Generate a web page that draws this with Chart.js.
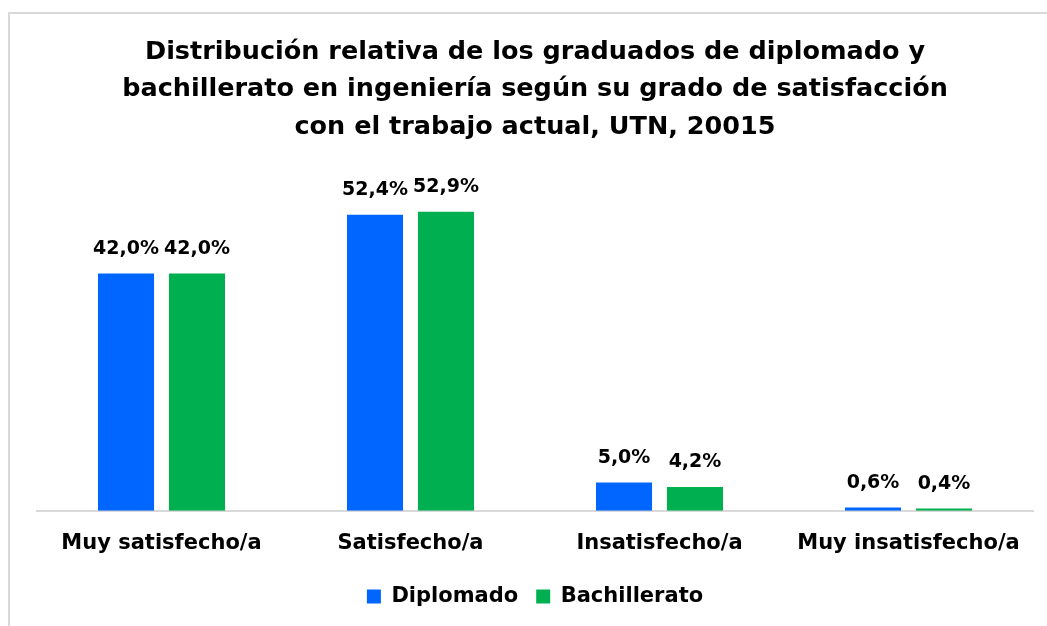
<!DOCTYPE html>
<html>
<head>
<meta charset="utf-8">
<script src="https://cdn.jsdelivr.net/npm/chart.js@4"></script>
<style>
  html, body { margin: 0; padding: 0; background: #fff; overflow: hidden; }
  canvas { display: block; }
</style>
</head>
<body>
<canvas id="c" width="1047" height="626"></canvas>
<script>
const titleLines = [
  "Distribución relativa de los graduados de diplomado y",
  "bachillerato en ingeniería según su grado de satisfacción",
  "con el trabajo actual, UTN, 20015"
];
const categories = ["Muy satisfecho/a", "Satisfecho/a", "Insatisfecho/a", "Muy insatisfecho/a"];
const diplomado = [42.0, 52.4, 5.0, 0.6];
const bachillerato = [42.0, 52.9, 4.2, 0.4];
const seriesNames = ["Diplomado", "Bachillerato"];

const FONT = "'DejaVu Sans', sans-serif";

const framePlugin = {
  id: 'frame',
  beforeDraw(chart) {
    const ctx = chart.ctx;
    ctx.save();
    ctx.strokeStyle = '#d9d9d9';
    ctx.lineWidth = 2;
    ctx.beginPath();
    ctx.moveTo(9, chart.height);
    ctx.lineTo(9, 13);
    ctx.lineTo(chart.width, 13);
    ctx.stroke();
    ctx.restore();
  }
};

const labelPlugin = {
  id: 'valueLabels',
  afterDatasetsDraw(chart) {
    const ctx = chart.ctx;
    ctx.save();
    ctx.font = "bold 19px " + FONT;
    ctx.fillStyle = '#000';
    ctx.textAlign = 'center';
    ctx.textBaseline = 'bottom';
    chart.data.datasets.forEach((ds, di) => {
      const meta = chart.getDatasetMeta(di);
      meta.data.forEach((bar, i) => {
        const v = ds.data[i];
        const txt = v.toFixed(1).replace('.', ',') + '%';
        ctx.fillText(txt, bar.x, bar.y - 15);
      });
    });
    ctx.restore();
  }
};

new Chart(document.getElementById('c'), {
  type: 'bar',
  data: {
    labels: categories,
    datasets: [
      { label: seriesNames[0], data: diplomado, backgroundColor: '#0066FF' },
      { label: seriesNames[1], data: bachillerato, backgroundColor: '#00B050' }
    ]
  },
  options: {
    responsive: false,
    animation: false,
    layout: { padding: { left: 37, right: 14, top: 34, bottom: 9 } },
    datasets: { bar: { categoryPercentage: 0.57, barPercentage: 0.79 } },
    scales: {
      x: {
        grid: { display: false },
        border: { display: true, color: '#d9d9d9', width: 2 },
        ticks: { color: '#000', font: { family: FONT, size: 21, weight: 'bold' }, padding: 12, maxRotation: 0 }
      },
      y: {
        display: false,
        min: 0,
        max: 60
      }
    },
    plugins: {
      title: {
        display: true,
        text: titleLines,
        color: '#000',
        font: { family: FONT, size: 25.5, weight: 'bold', lineHeight: 1.46 },
        padding: { top: 0, bottom: 26 }
      },
      legend: {
        position: 'bottom',
        labels: {
          color: '#000',
          font: { family: FONT, size: 21, weight: 'bold' },
          boxWidth: 14, boxHeight: 14, padding: 18
        }
      },
      tooltip: { enabled: false }
    }
  },
  plugins: [framePlugin, labelPlugin]
});
</script>
</body>
</html>
